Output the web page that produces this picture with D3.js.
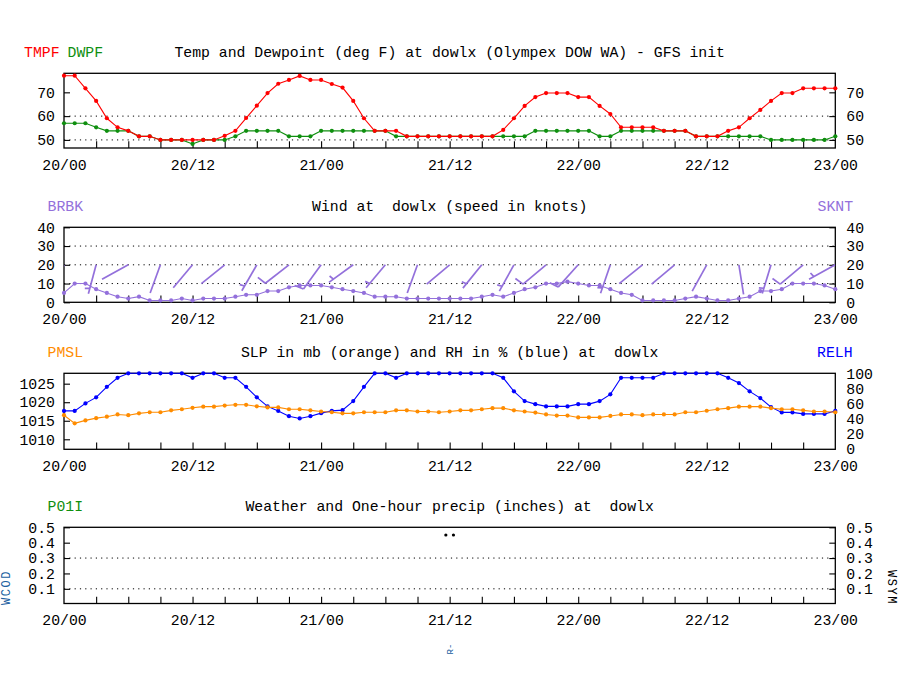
<!DOCTYPE html>
<html><head><meta charset="utf-8">
<script src="https://cdn.jsdelivr.net/npm/d3@7/dist/d3.min.js"></script>
<style>
body{margin:0;background:#fff}
svg{display:block}
text{font-family:"Liberation Mono","DejaVu Sans Mono",monospace;font-size:14.8px;white-space:pre}
</style>
</head><body>
<svg id="c" width="900" height="700"></svg>
<script>
// ---------------- DATA ----------------
const timeLabels = ["20/00","20/12","21/00","21/12","22/00","22/12","23/00"];
const labelHours = [0,12,24,36,48,60,72];

const tmpf = [77,77,71.7,66.4,59.1,55.3,53.8,51.5,51.5,50,50,50,50,50,50,51.7,53.8,59.2,64.4,69.7,73.6,75.2,76.9,75.2,75.2,73.5,72,66.4,59.1,53.8,53.8,53.8,51.5,51.5,51.5,51.5,51.5,51.5,51.5,51.5,51.5,54.2,59.1,64.3,68,69.7,69.7,69.7,68,68,64.3,60.9,55.3,55.3,55.3,55.3,53.8,53.8,53.8,51.5,51.5,51.5,53.8,55.3,59.1,62.6,66.4,69.7,69.7,71.7,71.7,71.7,71.7];
const dwpf = [57,57,57,55.3,53.8,53.8,53.8,51.5,51.5,50,50,50,48.3,50,50,50,51.5,53.8,53.8,53.8,53.8,51.5,51.5,51.5,53.8,53.8,53.8,53.8,53.8,53.8,53.8,51.5,51.5,51.5,51.5,51.5,51.5,51.5,51.5,51.5,51.5,51.5,51.5,51.5,53.8,53.8,53.8,53.8,53.8,53.8,51.5,51.5,53.8,53.8,53.8,53.8,53.8,53.8,53.8,51.5,51.5,51.5,51.5,51.5,51.5,51.5,50,50,50,50,50,50,51.5];

const sknt = [5,10,10,7,5,3,2,3,1,1,1,2,1,2,2,2,3,4,4,6,6,8,9,9,9,8,7,6,5,3,3,3,2,2,2,2,2,2,2,3,4,3,5,7,8,10,10,11,10,9,9,7,5,4,1,1,1,1,2,3,2,1,1,2,3,6,6,7,10,10,10,9,7];
// wind direction (deg) every 3 hours
const drct = [200,195,241,200,220,231,210,232,216,234,220,200,230,219,209,230,222,199,231,230,209,171,197,230,241];

const pmsl = [1016.5,1014.3,1015.1,1015.7,1016.1,1016.7,1016.5,1017.0,1017.3,1017.3,1017.8,1018.1,1018.5,1018.8,1018.8,1019.1,1019.3,1019.3,1018.9,1018.6,1018.6,1018.1,1018.1,1017.8,1017.5,1017.3,1017.0,1017.0,1017.3,1017.3,1017.3,1017.8,1017.8,1017.5,1017.5,1017.3,1017.5,1017.8,1017.8,1018.1,1018.4,1018.4,1017.8,1017.5,1017.2,1016.7,1016.4,1016.4,1015.9,1015.9,1015.9,1016.3,1016.7,1016.7,1016.5,1016.7,1016.7,1016.7,1017.3,1017.3,1017.7,1018.1,1018.4,1018.8,1018.8,1018.8,1018.4,1018.1,1018.1,1017.8,1017.5,1017.5,1017.3];
const relh = [50,50,60,68,82,94,100,100,100,100,100,100,94,100,100,94,94,82,68,56,50,43,40,43,47,50,51,63,82,100,100,94,100,100,100,100,100,100,100,100,100,94,76,63,59,56,56,56,59,59,63,72,94,94,94,94,100,100,100,100,100,100,94,87,76,67,55,48,48,46,46,46,50];

const wxHours = [36];
const wxCodes = ["R-"];
const wxSymbolLevel = 0.45;

const tempTicks = [50,60,70], tempGrid = [50,60];
const windTicks = [0,10,20,30,40], windGrid = [10,20,30];
const slpTicks = [1010,1015,1020,1025];
const rhTicks = [0,20,40,60,80,100];
const precTicks = [0.1,0.2,0.3,0.4,0.5], precGrid = [0.1,0.3];

// ---------------- DRAW ----------------
const svg = d3.select("#c");
const X0 = 64, X1 = 835.3, XC = (X0 + X1) / 2;
const x = d3.scaleLinear().domain([0,72]).range([X0,X1]);
const hoursIdx = tmpf.map((d,i)=>i);

const RED="#ff0000", GREEN="#0f8f0f", PURPLE="#9370db", ORANGE="#ff8c00", BLUE="#0000ff", WXBLUE="#2060a0";

function frame(top,bottom){
  svg.append("rect").attr("x",X0).attr("y",top).attr("width",X1-X0).attr("height",bottom-top)
    .attr("fill","none").attr("stroke","#000").attr("stroke-width",1.3);
}
function grid(y, vals){
  vals.forEach(v=>{
    svg.append("line").attr("x1",X0).attr("x2",X1).attr("y1",y(v)).attr("y2",y(v))
      .attr("stroke","#000").attr("stroke-width",1).attr("stroke-dasharray","1.2,4.1");
  });
}
function styleAxis(g){
  g.select(".domain").remove();
  g.attr("font-family",null).attr("font-size",null);
  g.selectAll("line").attr("stroke","#000").attr("stroke-width",1.1);
  g.selectAll("text").attr("fill","#000");
}
function leftAxis(y, vals, fmt){
  const g = svg.append("g").attr("transform",`translate(${X0},0)`)
    .call(d3.axisLeft(y).tickValues(vals).tickSize(-6).tickPadding(9).tickFormat(fmt||d3.format("d")));
  styleAxis(g);
}
function rightAxis(y, vals, fmt, tick){
  const g = svg.append("g").attr("transform",`translate(${X1},0)`)
    .call(d3.axisRight(y).tickValues(vals).tickSize(tick===false?0:-6).tickPadding(11).tickFormat(fmt||d3.format("d")));
  styleAxis(g);
}
function xAxis(bottom){
  const g1 = svg.append("g").attr("transform",`translate(0,${bottom})`)
    .call(d3.axisBottom(x).tickValues(labelHours).tickSize(0).tickPadding(11).tickFormat((d,i)=>timeLabels[i]));
  styleAxis(g1);
  const g2 = svg.append("g").attr("transform",`translate(0,${bottom})`)
    .call(d3.axisBottom(x).tickValues(d3.range(3,72,3)).tickSize(-6.7).tickFormat(""));
  styleAxis(g2);
}
function series(y, vals, color){
  const line = d3.line().x((d,i)=>x(hoursIdx[i])).y(d=>y(d));
  svg.append("path").datum(vals).attr("d",line).attr("fill","none").attr("stroke",color).attr("stroke-width",1.1);
  svg.append("g").selectAll("circle").data(vals).join("circle")
    .attr("cx",(d,i)=>x(hoursIdx[i])).attr("cy",d=>y(d)).attr("r",2.1).attr("fill",color);
}
function label(txt,xx,yy,color,anchor){
  svg.append("text").attr("x",xx).attr("y",yy).attr("fill",color||"#000")
    .attr("xml:space","preserve")
    .attr("text-anchor",anchor||"start").text(txt);
}

// Panel 1: temperature
{
  const top=73.3,bottom=148;
  const y = d3.scaleLinear().domain([46.6,78]).range([bottom,top]);
  grid(y,tempGrid);
  frame(top,bottom);
  leftAxis(y,tempTicks); rightAxis(y,tempTicks);
  xAxis(bottom);
  series(y,dwpf,GREEN);
  series(y,tmpf,RED);
  label("TMPF",24,57.3,RED);
  label("DWPF",67.5,57.3,GREEN);
  label("Temp and Dewpoint (deg F) at dowlx (Olympex DOW WA) - GFS init",XC,57.3,"#000","middle");
}

// Panel 2: wind
{
  const top=227.3,bottom=302.3;
  const y = d3.scaleLinear().domain([0,40]).range([bottom,top]);
  grid(y,windGrid);
  frame(top,bottom);
  leftAxis(y,windTicks); rightAxis(y,windTicks);
  xAxis(bottom);
  series(y,sknt,PURPLE);
  svg.append("clipPath").attr("id","wclip").append("rect")
    .attr("x",X0).attr("y",top).attr("width",X1-X0).attr("height",bottom-top);
  const bg = svg.append("g").attr("clip-path","url(#wclip)");
  const L = 30, FULL = 9.5, HALF = 5;
  drct.forEach((dir,i)=>{
    const h = i*3;
    const sx = x(h), sy = y(20);
    const t = dir*Math.PI/180;
    const ux = Math.sin(t), uy = -Math.cos(t);
    const tb = (dir+76)*Math.PI/180;
    const bx = Math.sin(tb), by = -Math.cos(tb);
    const ex = sx + L*ux, ey = sy + L*uy;
    bg.append("line").attr("x1",sx).attr("y1",sy).attr("x2",ex).attr("y2",ey)
      .attr("stroke",PURPLE).attr("stroke-width",1.7);
    const r = Math.round(sknt[h]/5)*5;
    let nFull = Math.floor(r/10), nHalf = (r%10)>=5?1:0;
    let pos = 0;
    for(let k=0;k<nFull;k++){
      const px = ex - pos*ux, py = ey - pos*uy;
      bg.append("line").attr("x1",px).attr("y1",py).attr("x2",px+FULL*bx).attr("y2",py+FULL*by)
        .attr("stroke",PURPLE).attr("stroke-width",1.7);
      pos += 4;
    }
    if(nHalf){
      if(nFull===0) pos = 5.5;
      const px = ex - pos*ux, py = ey - pos*uy;
      bg.append("line").attr("x1",px).attr("y1",py).attr("x2",px+HALF*bx).attr("y2",py+HALF*by)
        .attr("stroke",PURPLE).attr("stroke-width",1.7);
    }
  });
  label("BRBK",47.5,210.7,PURPLE);
  label("SKNT",817.5,210.7,PURPLE);
  label("Wind at  dowlx (speed in knots)",XC,210.7,"#000","middle");
}

// Panel 3: SLP & RH
{
  const top=373.3,bottom=449.3;
  const yL = d3.scaleLinear().domain([1007.3,1027.8]).range([bottom,top]);
  const yR = d3.scaleLinear().domain([0,100]).range([448.5,top]);
  frame(top,bottom);
  leftAxis(yL,slpTicks); rightAxis(yR,rhTicks,null,false);
  xAxis(bottom);
  series(yR,relh,BLUE);
  series(yL,pmsl,ORANGE);
  label("PMSL",47.5,357.3,ORANGE);
  label("RELH",817,357.3,BLUE);
  label("SLP in mb (orange) and RH in % (blue) at  dowlx",XC,357.3,"#000","middle");
}

// Panel 4: weather & precip
{
  const top=527.3,bottom=603.5;
  const y = d3.scaleLinear().domain([0,0.5]).range([604.2,top]);
  grid(y,precGrid);
  frame(top,bottom);
  leftAxis(y,precTicks,d3.format(".1f")); rightAxis(y,precTicks,d3.format(".1f"));
  xAxis(bottom);
  label("P01I",47.5,510.7,GREEN);
  label("Weather and One-hour precip (inches) at  dowlx",XC,510.7,"#000","middle");
  svg.append("text").attr("transform","translate(10,587.5) rotate(-90)").attr("text-anchor","middle")
    .attr("fill",WXBLUE).style("font-size","12px").style("letter-spacing","1.5px").text("WCOD");
  svg.append("text").attr("transform","translate(888,587.5) rotate(90)").attr("text-anchor","middle")
    .attr("fill","#000").style("font-size","12px").style("letter-spacing","1.5px").text("WSYM");
  wxHours.forEach((h,i)=>{
    const cx = x(h);
    [-3.8,3.8].forEach(o=>{
      svg.append("circle").attr("cx",cx+o).attr("cy",y(wxSymbolLevel)).attr("r",1.6).attr("fill","#000");
    });
    svg.append("text").attr("transform",`translate(${cx+3.5},649) rotate(-90)`).attr("text-anchor","middle")
      .attr("fill",WXBLUE).style("font-size","9px").text(wxCodes[i]);
  });
}
</script>
</body></html>
